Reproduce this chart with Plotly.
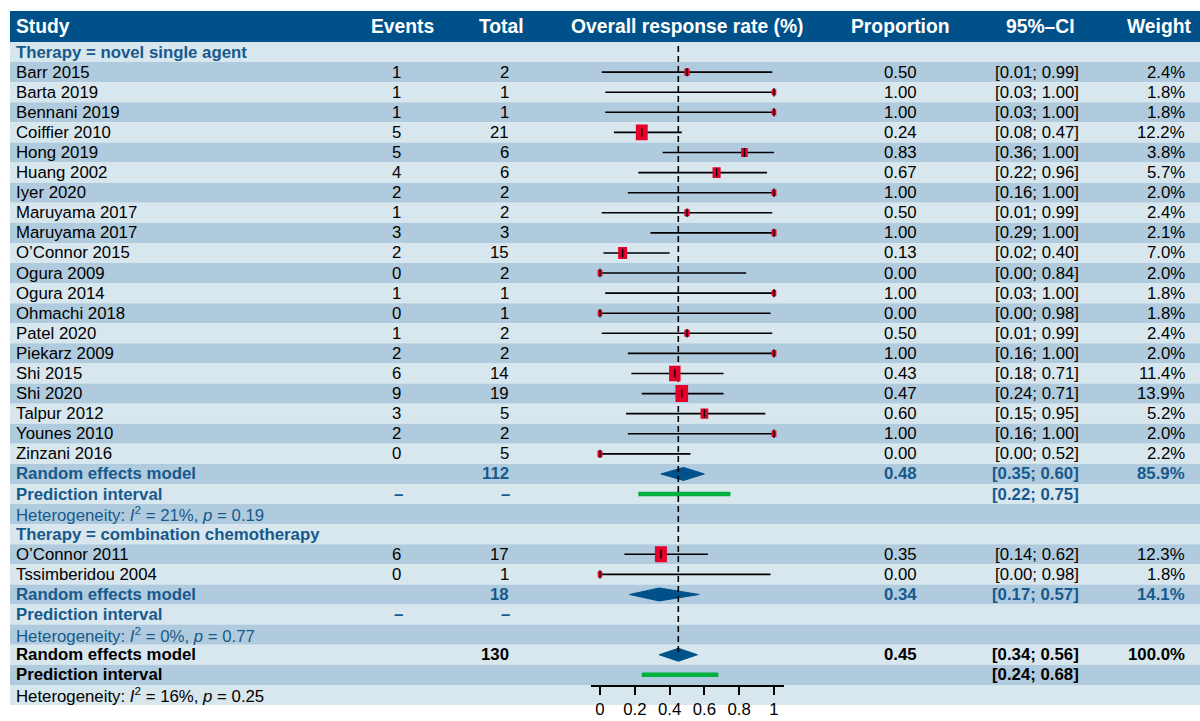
import numpy as np
import plotly.graph_objects as go

# ---- study-level data -------------------------------------------------
g1_study = ["Barr 2015", "Barta 2019", "Bennani 2019", "Coiffier 2010", "Hong 2019",
            "Huang 2002", "Iyer 2020", "Maruyama 2017", "Maruyama 2017", "O’Connor 2015",
            "Ogura 2009", "Ogura 2014", "Ohmachi 2018", "Patel 2020", "Piekarz 2009",
            "Shi 2015", "Shi 2020", "Talpur 2012", "Younes 2010", "Zinzani 2016"]
g1_events = [1, 1, 1, 5, 5, 4, 2, 1, 3, 2, 0, 1, 0, 1, 2, 6, 9, 3, 2, 0]
g1_total = [2, 1, 1, 21, 6, 6, 2, 2, 3, 15, 2, 1, 1, 2, 2, 14, 19, 5, 2, 5]
g1_prop = [0.50, 1.00, 1.00, 0.24, 0.83, 0.67, 1.00, 0.50, 1.00, 0.13,
           0.00, 1.00, 0.00, 0.50, 1.00, 0.43, 0.47, 0.60, 1.00, 0.00]
g1_lower = [0.01, 0.03, 0.03, 0.08, 0.36, 0.22, 0.16, 0.01, 0.29, 0.02,
            0.00, 0.03, 0.00, 0.01, 0.16, 0.18, 0.24, 0.15, 0.16, 0.00]
g1_upper = [0.99, 1.00, 1.00, 0.47, 1.00, 0.96, 1.00, 0.99, 1.00, 0.40,
            0.84, 1.00, 0.98, 0.99, 1.00, 0.71, 0.71, 0.95, 1.00, 0.52]
g1_weight = [2.4, 1.8, 1.8, 12.2, 3.8, 5.7, 2.0, 2.4, 2.1, 7.0,
             2.0, 1.8, 1.8, 2.4, 2.0, 11.4, 13.9, 5.2, 2.0, 2.2]

g2_study = ["O’Connor 2011", "Tssimberidou 2004"]
g2_events = [6, 0]
g2_total = [17, 1]
g2_prop = [0.35, 0.00]
g2_lower = [0.14, 0.00]
g2_upper = [0.62, 0.98]
g2_weight = [12.3, 1.8]

# ---- pooled estimates --------------------------------------------------
subgroup_labels = ["Therapy = novel single agent", "Therapy = combination chemotherapy"]
re_total = [112, 18, 130]
re_prop = [0.48, 0.34, 0.45]
re_lower = [0.35, 0.17, 0.34]
re_upper = [0.60, 0.57, 0.56]
re_weight = [85.9, 14.1, 100.0]
pi_lower = [0.22, None, 0.24]
pi_upper = [0.75, None, 0.68]
het_i2 = [21, 0, 16]
het_p = [0.19, 0.77, 0.25]

axis_ticks = [0, 0.2, 0.4, 0.6, 0.8, 1]
header_labels = ["Study", "Events", "Total", "Overall response rate (%)",
                 "Proportion", "95%–CI", "Weight"]

# ---- styling -----------------------------------------------------------
FONT = "Liberation Sans, Arial, Helvetica, sans-serif"
NAVY = "#00518A"
BLUE_TXT = "#17598C"
LIGHT = "#D8E6EE"
DARK = "#B0CBDD"
RED = "#E4002B"
GREEN = "#00B140"
FS = 16.8
W, H = 1200, 721
ROW0_PX, ROW_PX = 52.05, 20.09   # centre of first row, row pitch
PX_PER_UNIT = 174.0

def px(x):
    return x / W

# ---- row layout ---------------------------------------------------------
n1, n2 = len(g1_study), len(g2_study)
row_sub1 = 0
rows_g1 = list(range(1, 1 + n1))
row_re1, row_pi1, row_het1 = 1 + n1, 2 + n1, 3 + n1
row_sub2 = 4 + n1
rows_g2 = list(range(row_sub2 + 1, row_sub2 + 1 + n2))
row_re2 = row_sub2 + 1 + n2
row_pi2, row_het2 = row_re2 + 1, row_re2 + 2
row_re, row_pi, row_het = row_het2 + 1, row_het2 + 2, row_het2 + 3
n_rows = row_het + 1

fig = go.Figure()
shapes = []
ann = []

# alternating row bands
for i in range(n_rows):
    shapes.append(dict(type="rect", xref="paper", yref="y", x0=px(10), x1=1,
                       y0=i - 0.5, y1=i + 0.5, line=dict(width=0),
                       fillcolor=LIGHT if i % 2 == 0 else DARK, layer="below"))
# header band
hdr_top = (11 - ROW0_PX) / ROW_PX
hdr_bot = -0.5
shapes.append(dict(type="rect", xref="paper", yref="y", x0=px(10), x1=1,
                   y0=hdr_top, y1=hdr_bot, line=dict(width=0),
                   fillcolor=NAVY, layer="below"))
hdr_y = (hdr_top + hdr_bot) / 2

def text(x, y, s, anchor="left", color="black", bold=False, size=FS):
    if bold:
        s = "<b>" + s + "</b>"
    ann.append(dict(xref="paper", yref="y", x=px(x), y=y, text=s, showarrow=False,
                    xanchor=anchor, yanchor="middle",
                    font=dict(family=FONT, size=size, color=color)))

# header texts
hdr_pos = [(14, "left"), (402, "center"), (501, "center"), (687, "center"),
           (900, "center"), (1040, "center"), (1193, "right")]
for (hx, ha), lab in zip(hdr_pos, header_labels):
    text(hx, hdr_y, lab, anchor=ha, color="white", bold=True, size=19.3)

X_STUDY, X_EV, X_TOT, X_PROP, X_CI, X_WT = 14, 403, 511, 919, 1081, 1187

def study_rows(rows, names, ev, tot, prop, lo, hi, wt):
    for r, nm, e, t, p, l, u, w in zip(rows, names, ev, tot, prop, lo, hi, wt):
        text(X_STUDY, r, nm)
        text(X_EV, r, str(e), "right")
        text(X_TOT, r, str(t), "right")
        text(X_PROP, r, f"{p:.2f}", "right")
        text(X_CI, r, f"[{l:.2f}; {u:.2f}]", "right")
        text(X_WT, r, f"{w:.1f}%", "right")

text(X_STUDY, row_sub1, subgroup_labels[0], color=BLUE_TXT, bold=True)
study_rows(rows_g1, g1_study, g1_events, g1_total, g1_prop, g1_lower, g1_upper, g1_weight)
text(X_STUDY, row_sub2, subgroup_labels[1], color=BLUE_TXT, bold=True)
study_rows(rows_g2, g2_study, g2_events, g2_total, g2_prop, g2_lower, g2_upper, g2_weight)

summary = [(row_re1, row_pi1, row_het1, BLUE_TXT, True),
           (row_re2, row_pi2, row_het2, BLUE_TXT, True),
           (row_re, row_pi, row_het, "black", False)]
for k, (rr, rp, rh, col, sub) in enumerate(summary):
    text(X_STUDY, rr, "Random effects model", color=col, bold=True)
    text(X_TOT, rr, str(re_total[k]), "right", color=col, bold=True)
    text(X_PROP, rr, f"{re_prop[k]:.2f}", "right", color=col, bold=True)
    text(X_CI, rr, f"[{re_lower[k]:.2f}; {re_upper[k]:.2f}]", "right", color=col, bold=True)
    text(X_WT, rr, f"{re_weight[k]:.1f}%", "right", color=col, bold=True)
    text(X_STUDY, rp, "Prediction interval", color=col, bold=True)
    if sub:
        text(398, rp, "–", "center", color=col, bold=True)
        text(505, rp, "–", "center", color=col, bold=True)
    if pi_lower[k] is not None:
        text(X_CI, rp, f"[{pi_lower[k]:.2f}; {pi_upper[k]:.2f}]", "right", color=col, bold=True)
    text(X_STUDY, rh, f"Heterogeneity: <i>I</i><sup>2</sup> = {het_i2[k]}%, "
                      f"<i>p</i> = {het_p[k]:.2f}", color=col)

# ---- forest graphics -----------------------------------------------------
all_rows = rows_g1 + rows_g2
all_prop = g1_prop + g2_prop
all_lo = g1_lower + g2_lower
all_hi = g1_upper + g2_upper
all_wt = g1_weight + g2_weight

# confidence interval whiskers
cx, cy = [], []
for r, l, u in zip(all_rows, all_lo, all_hi):
    cx += [l, u, None]
    cy += [r, r, None]
fig.add_trace(go.Scatter(x=cx, y=cy, mode="lines", line=dict(color="black", width=1.6),
                         hoverinfo="skip"))

# pooled diamonds
DIA_H = 6.5 / ROW_PX
for k, r in enumerate([row_re1, row_re2, row_re]):
    fig.add_trace(go.Scatter(
        x=[re_lower[k], re_prop[k], re_upper[k], re_prop[k], re_lower[k]],
        y=[r, r - DIA_H, r, r + DIA_H, r], mode="lines", fill="toself",
        fillcolor=NAVY, line=dict(color=NAVY, width=1), hoverinfo="skip"))

# prediction intervals
for k, r in enumerate([row_pi1, row_pi2, row_pi]):
    if pi_lower[k] is None:
        continue
    fig.add_trace(go.Scatter(x=[pi_lower[k], pi_upper[k]], y=[r, r], mode="lines",
                             line=dict(color=GREEN, width=4.5), hoverinfo="skip"))

# reference line at the overall pooled estimate
fig.add_trace(go.Scatter(x=[re_prop[2], re_prop[2]], y=[-0.3, row_re], mode="lines",
                         line=dict(color="black", width=1.6, dash="6px,4px"),
                         hoverinfo="skip"))

# weighted study squares
for r, p, w in zip(all_rows, all_prop, all_wt):
    hw = 3.4 * np.sqrt(w) / 2 / PX_PER_UNIT
    hh = 4.55 * np.sqrt(w) / 2 / ROW_PX
    fig.add_trace(go.Scatter(x=[p - hw, p + hw, p + hw, p - hw, p - hw],
                             y=[r - hh, r - hh, r + hh, r + hh, r - hh],
                             mode="lines", fill="toself", fillcolor=RED,
                             line=dict(width=0, color=RED), hoverinfo="skip"))
# point-estimate ticks
fig.add_trace(go.Scatter(x=all_prop, y=all_rows, mode="markers",
                         marker=dict(symbol="line-ns", size=6, color="black",
                                     line=dict(color="black", width=1.3)),
                         hoverinfo="skip"))

# ---- axes ----------------------------------------------------------------
x_lo, x_hi = -0.054, 1.06
d0 = (600 - (0 - x_lo) * PX_PER_UNIT) / W
d1 = (600 + x_hi * PX_PER_UNIT) / W
y_top = (0 - ROW0_PX) / ROW_PX
y_bot = (H - ROW0_PX) / ROW_PX

fig.update_layout(
    width=W, height=H, margin=dict(l=0, r=0, t=0, b=0),
    paper_bgcolor="white", plot_bgcolor="rgba(0,0,0,0)",
    showlegend=False, shapes=shapes, annotations=ann,
    xaxis=dict(domain=[d0, d1], range=[x_lo, x_hi], anchor="free",
               position=1 - 686 / H, side="bottom",
               showline=True, linecolor="black", linewidth=2,
               ticks="outside", ticklen=8, tickwidth=2, tickcolor="black",
               tickvals=axis_ticks, ticktext=[f"{t:g}" for t in axis_ticks],
               tickfont=dict(family=FONT, size=FS, color="black"),
               showgrid=False, zeroline=False, fixedrange=True),
    yaxis=dict(domain=[0, 1], range=[y_bot, y_top], visible=False,
               showgrid=False, zeroline=False, fixedrange=True),
)

fig.write_html("out.html", config={"displayModeBar": False})
